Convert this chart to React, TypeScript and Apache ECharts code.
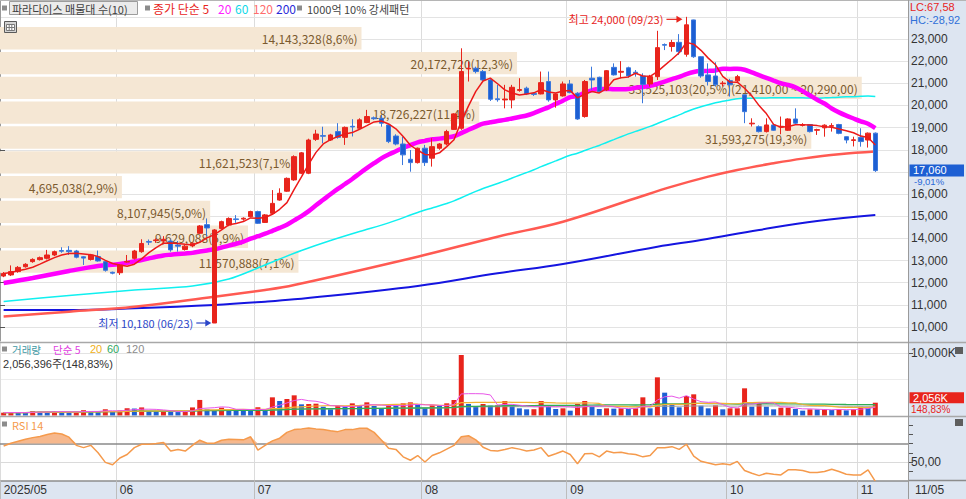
import React, { useEffect, useRef } from "react";
import * as echarts from "echarts";

// ---------- trading days shown (2025) ----------
const mayDays = [9, 12, 13, 14, 15, 16, 19, 20, 21, 22, 23, 26, 27, 28, 29, 30];
const junDays = [2, 4, 5, 9, 10, 11, 12, 13, 16, 17, 18, 19, 20, 23, 24, 25, 26, 27, 30];
const julDays = [1, 2, 3, 4, 7, 8, 9, 10, 11, 14, 15, 16, 17, 18, 21, 22, 23, 24, 25, 28, 29, 30, 31];
const augDays = [1, 4, 5, 6, 7, 8, 11, 12, 13, 14, 18, 19, 20, 21, 22, 25, 26, 27, 28, 29];
const sepDays = [1, 2, 3, 4, 5, 8, 9, 10, 11, 12, 15, 16, 17, 18, 19, 22, 23, 24, 25, 26, 29, 30];
const octDays = [1, 2, 10, 13, 14, 15, 16, 17, 20, 21, 22, 23, 24, 27, 28, 29, 30, 31];
const novDays = [3, 4, 5];

// ---------- daily candles ----------
const opens = [
  12300, 12350, 12500, 12720, 12950, 13040, 13100, 13250, 13450, 13460,
  13430, 13170, 13050, 13180, 12950, 12470, 12450, 12930, 13100, 13400,
  13860, 13900, 13880, 13880, 13700, 13500, 13660, 14230, 14620, 10180,
  14450, 14600, 14880, 14870, 14980, 15210, 14720, 15130, 15730, 16130,
  16640, 16940, 16940, 18470, 18640, 18440, 18820, 18560, 19060, 18970,
  19230, 19440, 19420, 19120, 18620, 18260, 17570, 17420, 18070, 17620,
  18070, 18260, 18920, 18970, 21650, 21680, 21530, 21150, 20300, 20250,
  20250, 20680, 20780, 20540, 20520, 21080, 20250, 20430, 20970, 20550,
  19500, 21230, 21270, 20700, 21720, 21500, 21700, 21500, 21330, 20970,
  21300, 22750, 22660, 22850, 22310, 23860, 22200, 21380, 21330, 20980,
  21120, 21110, 20480, 19170, 19040, 18820, 19120, 19030, 18880, 19390,
  19100, 19140, 18880, 18990, 19060, 19140, 18590, 18420, 18560, 18440,
  18750,
];
const closes = [
  12420, 12500, 12690, 12830, 13050, 13130, 13250, 13400, 13420, 13400,
  13150, 13110, 13250, 12980, 12560, 12430, 12790, 12960, 13430, 13770,
  13830, 13930, 13960, 13480, 13650, 13650, 13780, 14560, 14470, 14380,
  14755, 14900, 14850, 14910, 15210, 14680, 15060, 15580, 16036, 16710,
  17690, 17860, 18440, 18710, 18610, 18670, 18560, 19010, 19030, 19350,
  19500, 19400, 19200, 18370, 18260, 17770, 17420, 18070, 17420, 18140,
  18260, 18820, 19620, 21530, 21680, 21530, 21150, 20280, 20260, 20290,
  20820, 20720, 20520, 20500, 21030, 20250, 20520, 20970, 20580, 19390,
  21080, 21150, 20620, 21570, 21380, 21540, 21330, 21450, 20950, 21300,
  22610, 22720, 22840, 22430, 23640, 22200, 21330, 21080, 20930, 21010,
  20930, 21300, 19720, 19200, 18820, 19120, 18880, 19060, 19390, 19200,
  19130, 18820, 18910, 19110, 19090, 18740, 18440, 18450, 18370, 18750,
  17060,
];
const lows = [
  12250, 12300, 12450, 12680, 12900, 13000, 13050, 13200, 13350, 13250,
  13100, 12800, 13000, 12950, 12500, 12380, 12350, 12900, 13050, 13350,
  13700, 13800, 13800, 13400, 13400, 13450, 13600, 14200, 14100, 10180,
  14400, 14550, 14700, 14800, 14950, 14650, 14700, 15100, 15700, 16100,
  16600, 16900, 16900, 18400, 18290, 18400, 18500, 18220, 18600, 18900,
  19200, 19350, 19040, 18300, 18200, 17310, 17010, 17380, 17270, 17240,
  18000, 18200, 18900, 18900, 21080, 21450, 21100, 20200, 20170, 19870,
  19870, 20620, 20470, 20430, 20500, 20170, 19900, 20400, 20550, 19350,
  19450, 20700, 20600, 20650, 21350, 21230, 21250, 21300, 20100, 20850,
  21150, 22500, 22430, 22280, 22200, 22150, 21250, 20900, 20850, 20850,
  20400, 21050, 19200, 19050, 18780, 18780, 18850, 18700, 18850, 19150,
  19050, 18780, 18670, 18590, 18820, 18700, 18290, 18150, 18140, 18100,
  17000,
];
const highs = [
  12480, 12780, 12750, 12880, 13100, 13180, 13480, 13450, 13600, 13650,
  13480, 13200, 13300, 13450, 13000, 12500, 12820, 13250, 13480, 13960,
  13950, 14000, 14100, 13950, 13880, 13700, 13820, 14600, 14900, 14420,
  14800, 14950, 15050, 14950, 15250, 15250, 15100, 16180, 16260, 16750,
  17750, 17900, 18500, 18900, 19040, 18720, 19200, 19050, 19380, 19420,
  19800, 19500, 19570, 19150, 18700, 18590, 17990, 18100, 18220, 18520,
  18300, 18900, 19650, 22580, 21980, 21750, 21600, 21200, 20930, 20930,
  20930, 21230, 20850, 20580, 21530, 21530, 20550, 21080, 21150, 20600,
  21150, 21750, 21300, 21600, 21900, 22000, 21750, 21600, 21450, 21380,
  23370, 22800, 22960, 23220, 24000, 23870, 22220, 21900, 21950, 21100,
  21200, 21380, 20480, 19420, 19100, 19420, 19150, 19500, 19420, 19870,
  19200, 19160, 18950, 19150, 19200, 19170, 18600, 18590, 18970, 18780,
  18780,
];
// volume, thousands of shares
const volumesK = [
  450, 500, 480, 430, 700, 620, 600, 650, 560, 520,
  600, 850, 700, 600, 1000, 650, 800, 1150, 1120, 1300,
  700, 650, 700, 600, 550, 600, 1300, 2500, 992, 884,
  1260, 992, 884, 870, 777, 1313, 884, 2921, 2332, 2653,
  3243, 1796, 1849, 1900, 1420, 992, 1528, 1420, 1956, 1600,
  2117, 1528, 1153, 1635, 1600, 1956, 2117, 1688, 1153, 1635,
  1528, 1956, 2492, 9728, 1849, 1528, 1849, 1581, 1620, 2332,
  1581, 1153, 992, 1010, 2332, 1581, 1046, 1153, 777, 1849,
  2332, 1420, 1046, 1153, 1100, 1160, 1046, 1153, 2921, 1153,
  6137, 3671, 1688, 1313, 3136, 3404, 1581, 1153, 1635, 992,
  1153, 1160, 4369, 1420, 1849, 1420, 992, 1260, 1270, 1046,
  777, 992, 980, 1000, 884, 992, 830, 992, 1420, 1382,
  2056,
];
const rsi14 = [
  67.4, 70.4, 72.6, 74.8, 76.5, 77.8, 79.8, 81.5, 80.5, 77,
  68.1, 65.6, 68.1, 60, 49.6, 47, 54.4, 58.1, 65.6, 69.3,
  69.3, 70, 71.1, 61.9, 63.7, 61.9, 68.1, 73.7, 70.4, 70.4,
  73.7, 74.8, 74.5, 74.1, 77.4, 63, 68.1, 73, 75.9, 82.2,
  85.2, 86, 87, 86, 85.2, 84, 83, 85.2, 85.2, 86.7,
  86.7, 82.2, 74, 65, 63.7, 55.6, 51.9, 57, 50, 57,
  60, 64, 68, 77.4, 78.5, 74.1, 66, 62.6, 61.9, 63.5,
  65.6, 64, 61.9, 63, 65.6, 56.3, 59, 61.9, 58.1, 48.1,
  58.9, 59.3, 55.6, 61.9, 60, 60.7, 58.9, 58.1, 55.6, 57,
  65.6, 65.6, 66.7, 63.7, 69.3, 56.3, 50.7, 48.9, 47, 48.1,
  47, 50.7, 40.7, 37.8, 35.2, 37.8, 36.7, 35.9, 41.5, 41.5,
  40.7, 38.5, 38.5, 39.6, 42.2, 39.6, 36.7, 35.9, 35.9, 41.5,
  29,
];

const ma20Early = [[0, 11987], [4, 12212], [9, 12528], [13, 12754], [16, 12845]];
const ma60Early = [
  [0, 11151], [9, 11422], [18, 11671], [26, 11851], [31, 12167], [35, 12664],
  [38, 13070], [41, 13454], [45, 13905], [49, 14312], [53, 14700], [57, 15170],
];
const ma120Points = [
  [0, 10474], [9, 10691], [18, 10917], [29, 11368], [36, 11671], [40, 11896],
  [57, 13174], [68, 14077], [77, 14754], [87, 15811], [92, 16334], [97, 16786],
  [101, 17088], [106, 17390], [110, 17600], [115, 17800], [120, 17924],
];
const ma200Points = [
  [0, 10768], [9, 10768], [18, 10844], [29, 10993], [36, 11142], [40, 11251],
  [57, 11851], [68, 12425], [77, 12844], [90, 13626], [96, 13928], [104, 14380],
  [112, 14786], [120, 15057],
];

// price-volume profile (매물대, 10 bins)
const profileLows = [22530, 21410, 20290, 19170, 18050, 16930, 15810, 14690, 13570, 12450];
const profileHighs = [23650, 22530, 21410, 20290, 19170, 18050, 16930, 15810, 14690, 13570];
const profileVolumes = [14143328, 20172720, 33525103, 18726227, 31593275, 11621523, 4695038, 8107945, 9629088, 11570888];
const profilePcts = [8.6, 12.3, 20.5, 11.4, 19.3, 7.1, 2.9, 5.0, 5.9, 7.1];

const priceTicks = [10000, 11000, 12000, 13000, 14000, 15000, 16000, 17000, 18000, 19000, 20000, 21000, 22000, 23000];
const priceGridLines = [10000, 11000, 12000, 13000, 14000, 15000, 16000, 17000, 18000, 19000, 20000, 21000, 22000, 23000, 24000];
const volumeTicks = [10000];
const rsiTicks = [40, 50, 60, 70, 80, 90];
const rsiLabelTicks = [50];
const rsiOverbought = 70;

const lastVolumeShares = 2056396;
const lastVolumeRatio = 148.83;
const lcValue = 67.58;
const hcValue = -28.92;

// ---------- helpers ----------
const FONT = '"Noto Sans CJK KR", "Noto Sans", sans-serif';
const NUM_FONT = '"Liberation Sans", Arial, sans-serif';
const MIX_FONT = '"Liberation Sans", "Noto Sans CJK KR", sans-serif';
const RED = "#e8241c";
const BLUE = "#1d5fd3";
const fmt = (n: number) => Math.round(n).toLocaleString("en-US");
const dec = (n: number, d = 2) => n.toFixed(d).replace(".", ",");

const monthGroups: [string, number[]][] = [
  ["05", mayDays], ["06", junDays], ["07", julDays], ["08", augDays],
  ["09", sepDays], ["10", octDays], ["11", novDays],
];
const dates: string[] = [];
monthGroups.forEach(([m, days]) => days.forEach((d) => dates.push(`2025-${m}-${String(d).padStart(2, "0")}`)));
const PAD = 4;
const categories = dates.concat(Array.from({ length: PAD }, (_, i) => `pad${i}`));
const isMonthStart = (i: number) =>
  i < dates.length && (i === 0 || dates[i].slice(5, 7) !== dates[i - 1].slice(5, 7));
const LAST = closes.length - 1;
// the last-price box on the axis hides the tick label that it covers
const priceLabelValues = priceTicks.filter((v) => Math.abs(v - closes[LAST]) > 400);

function movingAvg(arr: number[], n: number, i: number) {
  const from = Math.max(0, i - n + 1);
  let s = 0;
  for (let k = from; k <= i; k++) s += arr[k];
  return s / (i - from + 1);
}
function fullWindowMA(arr: number[], n: number) {
  const out: number[][] = [];
  arr.forEach((_, i) => {
    if (i >= n - 1) out.push([i, movingAvg(arr, n, i)]);
  });
  return out;
}

const PLOT_W = 908;
const PROFILE_FULL_PCT = 21.6;

function catAxis(gridIndex: number, show: boolean) {
  return {
    type: "category",
    gridIndex,
    data: categories,
    boundaryGap: true,
    axisLine: { show, lineStyle: { color: "#8c8c8c", width: 1.5 } },
    axisTick: { show, interval: (i: number) => isMonthStart(i), length: 19, lineStyle: { color: "#bdbdbd" } },
    axisLabel: {
      show,
      interval: (i: number) => isMonthStart(i),
      formatter: (v: string, i: number) => (i === 0 ? `${v.slice(0, 4)}/${v.slice(5, 7)}` : v.slice(5, 7)),
      align: "left",
      color: "#333",
      fontSize: 12,
      margin: 4,
      fontFamily: NUM_FONT,
    },
    splitLine: { show: true, interval: (i: number) => isMonthStart(i), lineStyle: { color: "#dcdcdc" } },
  };
}

function buildOption() {
  const ohlc = opens.map((o, i) => [o, closes[i], lows[i], highs[i]]);
  const ma5 = closes.map((_, i) => movingAvg(closes, 5, i));
  const ma20 = (ma20Early as number[][]).concat(fullWindowMA(closes, 20));
  const ma60 = (ma60Early as number[][]).concat(fullWindowMA(closes, 60));
  const volBars = volumesK.map((v, i) => ({
    value: v,
    itemStyle: { color: i === 0 || v > volumesK[i - 1] ? RED : BLUE },
  }));
  const vma = (n: number) => volumesK.map((_, i) => movingAvg(volumesK, n, i));
  const maxPct = Math.max(...profilePcts);
  const profileLabels = profileVolumes.map((v, i) => {
    let s = `${fmt(v)}(${dec(profilePcts[i], 1)}%)`;
    if (profilePcts[i] === maxPct) s += `(${fmt(profileHighs[i])},00 ~ ${fmt(profileLows[i])},00)`;
    return s;
  });
  const profileData = profileLows.map((lo, i) => [lo, profileHighs[i], profilePcts[i]]);

  const lineS = (data: any, color: string, width: number, z: number, smooth: any = false) => ({
    type: "line",
    xAxisIndex: 0,
    yAxisIndex: 0,
    data,
    symbol: "none",
    showSymbol: false,
    smooth,
    lineStyle: { color, width },
    z,
    silent: true,
  });
  const volLine = (data: number[], color: string, width = 1) => ({
    type: "line",
    xAxisIndex: 1,
    yAxisIndex: 1,
    data,
    symbol: "none",
    lineStyle: { color, width },
    z: 4,
    silent: true,
  });
  const yLabel = (values: number[], formatter: (v: number) => string) => ({
    customValues: values,
    formatter,
    color: "#333",
    fontSize: 12,
    margin: 3,
    fontFamily: NUM_FONT,
  });

  return {
    animation: false,
    textStyle: { fontFamily: FONT },
    grid: [
      { left: 0, top: 1, width: PLOT_W, height: 340 },
      { left: 0, top: 343, width: PLOT_W, height: 72.5 },
      { left: 0, top: 416, width: PLOT_W, height: 64.4 },
    ],
    xAxis: [
      catAxis(0, false),
      catAxis(1, false),
      catAxis(2, true),
      { type: "value", gridIndex: 0, position: "top", min: 0, max: PROFILE_FULL_PCT, show: false },
    ],
    yAxis: [
      {
        type: "value",
        gridIndex: 0,
        position: "right",
        min: 9368,
        max: 24715,
        axisLine: { show: true, lineStyle: { color: "#9a9a9a" } },
        axisTick: { show: true, length: 5, customValues: priceTicks, lineStyle: { color: "#555" } },
        axisLabel: yLabel(priceLabelValues, (v) => fmt(v)),
        splitLine: { show: false },
      },
      {
        type: "value",
        gridIndex: 1,
        position: "right",
        min: 0,
        max: 11656,
        axisLine: { show: true, lineStyle: { color: "#9a9a9a" } },
        axisTick: { show: true, length: 5, customValues: volumeTicks, lineStyle: { color: "#555" } },
        axisLabel: yLabel(volumeTicks, (v) => `${fmt(v)}K`),
        splitLine: { show: false },
      },
      {
        type: "value",
        gridIndex: 2,
        position: "right",
        min: 30,
        max: 100,
        axisLine: { show: true, lineStyle: { color: "#9a9a9a" } },
        axisTick: { show: true, length: 5, customValues: rsiTicks, lineStyle: { color: "#555" } },
        axisLabel: yLabel(rsiLabelTicks, (v) => dec(v)),
        splitLine: { show: false },
      },
    ],
    series: [
      {
        type: "custom",
        xAxisIndex: 3,
        yAxisIndex: 0,
        data: profileData,
        encode: { x: 2, y: [0, 1] },
        z: 1,
        silent: true,
        renderItem: (params: any, api: any) => {
          const lo = api.value(0);
          const hi = api.value(1);
          const pct = api.value(2);
          const tl = api.coord([0, hi]);
          const br = api.coord([pct, lo]);
          const top = tl[1] + 2.5;
          const h = br[1] - top;
          return {
            type: "group",
            children: [
              { type: "rect", shape: { x: tl[0], y: top, width: br[0] - tl[0], height: h }, style: { fill: "#f5e7d4" } },
              {
                type: "text",
                style: {
                  text: profileLabels[params.dataIndex],
                  x: br[0] - 4,
                  y: top + h / 2 + 0.5,
                  align: "right",
                  verticalAlign: "middle",
                  fill: "#7b5a2e",
                  font: `12px ${FONT}`,
                },
              },
            ],
          };
        },
        markLine: {
          silent: true,
          symbol: "none",
          z: 0,
          label: { show: false },
          lineStyle: { color: "#e3e3e3", type: "solid", width: 1 },
          data: priceGridLines.map((v) => ({ yAxis: v })),
        },
      },
      lineS(ma200Points, "#1515e0", 2, 2, 0.4),
      lineS(ma120Points, "#ff5a52", 2.5, 2, 0.4),
      lineS(ma60, "#10f0f0", 1.5, 2, 0.3),
      lineS(ma20, "#ff00ff", 4.5, 2, 0.3),
      {
        type: "candlestick",
        xAxisIndex: 0,
        yAxisIndex: 0,
        data: ohlc,
        barWidth: 5,
        z: 3,
        silent: true,
        itemStyle: { color: RED, color0: BLUE, borderColor: RED, borderColor0: "#3b78dc", borderWidth: 1 },
      },
      lineS(ma5, "#ec1a1a", 1.5, 4),
      {
        type: "bar",
        xAxisIndex: 1,
        yAxisIndex: 1,
        data: volBars,
        barWidth: 5,
        z: 2,
        silent: true,
        markLine: {
          silent: true,
          symbol: "none",
          z: 0,
          label: { show: false },
          lineStyle: { color: "#e3e3e3", type: "solid", width: 1 },
          data: volumeTicks.map((v) => ({ yAxis: v })),
        },
      },
      volLine(vma(120), "#a0a0a0"),
      volLine(vma(60), "#2fae55", 1.3),
      volLine(vma(20), "#f2b233", 1.2),
      volLine(vma(5), "#e857e8", 1),
      {
        type: "line",
        xAxisIndex: 2,
        yAxisIndex: 2,
        stack: "rsiFill",
        data: rsi14.map(() => rsiOverbought),
        symbol: "none",
        lineStyle: { opacity: 0 },
        silent: true,
        z: 2,
      },
      {
        type: "line",
        xAxisIndex: 2,
        yAxisIndex: 2,
        stack: "rsiFill",
        data: rsi14.map((v) => Math.max(0, v - rsiOverbought)),
        symbol: "none",
        lineStyle: { opacity: 0 },
        areaStyle: { color: "#f6b88d", opacity: 1 },
        silent: true,
        z: 2,
      },
      {
        type: "line",
        xAxisIndex: 2,
        yAxisIndex: 2,
        data: rsi14,
        symbol: "none",
        lineStyle: { color: "#f59a4c", width: 1.5 },
        silent: true,
        z: 3,
        markLine: {
          silent: true,
          symbol: "none",
          z: 1,
          label: { show: false },
          data: [
            { yAxis: rsiOverbought, lineStyle: { color: "#8a8a8a", width: 1.5, type: "solid" } },
            { yAxis: 50, lineStyle: { color: "#dadada", width: 1, type: "solid" } },
          ],
        },
      },
    ],
  };
}

function buildGraphics(chart: any) {
  const g: any[] = [];
  const rect = (x: number, y: number, w: number, h: number, fill: string, z = -10, stroke?: string) =>
    g.push({ type: "rect", shape: { x, y, width: w, height: h }, style: { fill, stroke, lineWidth: stroke ? 1 : 0 }, z, silent: true });
  const text = (x: number, y: number, t: string, fill: string, size = 12, align = "left", z = 100, family = FONT) =>
    g.push({ type: "text", x, y, style: { text: t, fill, font: `${size}px ${family}`, align, verticalAlign: "middle" }, z, silent: true });
  const line = (x1: number, y1: number, x2: number, y2: number, stroke: string, w = 1, z = 50) =>
    g.push({ type: "line", shape: { x1, y1, x2, y2 }, style: { stroke, lineWidth: w }, z, silent: true });
  const arrow = (tipX: number, tipY: number, len: number, color: string) => {
    line(tipX - len, tipY, tipX - 4, tipY, color, 1.2, 101);
    g.push({ type: "polygon", shape: { points: [[tipX, tipY], [tipX - 6, tipY - 3.5], [tipX - 6, tipY + 3.5]] }, style: { fill: color }, z: 101, silent: true });
  };

  // backgrounds & separators
  rect(908.5, 0, 58, 499, "#dde5f1", -10);
  rect(0, 481, 908.5, 18, "#dde5f1", -10);
  line(0, 0.5, 966, 0.5, "#b5b5b5", 1, 60);
  line(0, 342.5, 966, 342.5, "#a8a8a8", 1.5, 60);
  line(0, 416.5, 966, 416.5, "#a8a8a8", 1.5, 60);
  line(908, 480.5, 966, 480.5, "#8c8c8c", 1.5, 60);
  line(908.5, 0, 908.5, 499, "#9a9a9a", 1, 60);
  line(0, 379.5, 908, 379.5, "#ececec", 1, -5);

  // top legend
  rect(2, 5.5, 5, 5, "#8c8c8c", 100);
  rect(9.5, 1.5, 128, 13, "#ebebeb", 99, "#9c9c9c");
  text(12, 8.5, "파라다이스 매물대 수(10)", "#404040", 11);
  rect(145, 5.5, 5, 5, "#8c8c8c", 100);
  text(153, 8.5, "종가 단순 5", RED, 12);
  text(218, 8.5, "20", "#ff22ff", 12);
  text(235, 8.5, "60", "#10d8e8", 12);
  text(253, 8.5, "120", "#ff6d6d", 12);
  text(276, 8.5, "200", "#2a2ad8", 12);
  rect(297, 5.5, 5, 5, "#8c8c8c", 100);
  text(307, 8.5, "1000억 10% 강세패턴", "#444", 11);
  // table icon
  rect(4.5, 21.5, 12, 11, "#d4d4d4", 100, "#5a5a5a");
  rect(6.5, 24.5, 8, 6, "#ffffff", 101, "#7a7a7a");
  line(9.2, 24.5, 9.2, 30.5, "#7a7a7a", 1, 102);
  line(11.8, 24.5, 11.8, 30.5, "#7a7a7a", 1, 102);
  line(6.5, 27.5, 14.5, 27.5, "#7a7a7a", 1, 102);

  // volume legend
  rect(2, 346.5, 5, 5, "#8c8c8c", 100);
  text(12, 349, "거래량", "#3f9aa6", 10.5);
  text(53, 349, "단순 5", "#e040e0", 10.5);
  text(90, 349, "20", "#f0b020", 11, "left", 100, NUM_FONT);
  text(107, 349, "60", "#2fa860", 11, "left", 100, NUM_FONT);
  text(126, 349, "120", "#8c8c8c", 11, "left", 100, NUM_FONT);
  text(3, 364, `${fmt(lastVolumeShares)}주(${dec(lastVolumeRatio)}%)`, "#333", 11, "left", 100, MIX_FONT);

  // RSI legend
  rect(2, 421.5, 5, 5, "#8c8c8c", 100);
  text(12, 424.5, "RSI 14", "#f59a4c", 11);

  // right column texts
  text(910, 7.3, `LC:${dec(lcValue)}`, RED, 11, "left", 100, NUM_FONT);
  text(910, 20.2, `HC:${dec(hcValue)}`, "#3070d8", 11, "left", 100, NUM_FONT);
  const n = LAST;
  const [, py] = chart.convertToPixel({ xAxisIndex: 0, yAxisIndex: 0 }, [n, closes[n]]);
  rect(909.5, py - 6, 54.5, 12, BLUE, 99);
  text(913, py - 0.8, fmt(closes[n]), "#ffffff", 11, "left", 100, NUM_FONT);
  const chg = (closes[n] / closes[n - 1] - 1) * 100;
  text(914, py + 11.2, `${chg < 0 ? "-" : "+"}${dec(Math.abs(chg))}%`, "#2a6ad8", 9.5, "left", 100, NUM_FONT);
  const [, vy] = chart.convertToPixel({ xAxisIndex: 1, yAxisIndex: 1 }, [n, volumesK[n]]);
  rect(909.5, vy - 10.5, 54.5, 11, RED, 99);
  text(913, vy - 5.2, `${fmt(volumesK[n])}K`, "#ffffff", 11, "left", 100, NUM_FONT);
  text(911, vy + 7.2, `${dec(lastVolumeRatio)}%`, RED, 10, "left", 100, NUM_FONT);
  rect(955, 347, 8, 7, "#5e5e5e", 100);
  rect(955, 419, 8, 7, "#5e5e5e", 100);
  const lastDate = dates[n];
  text(915, 490, `${lastDate.slice(5, 7)}/${lastDate.slice(8, 10)}`, "#333", 12, "left", 100, NUM_FONT);

  // high / low annotations
  let hiIdx = 0;
  let loIdx = 0;
  highs.forEach((h, i) => { if (h > highs[hiIdx]) hiIdx = i; });
  lows.forEach((l, i) => { if (l < lows[loIdx]) loIdx = i; });
  const [hx, hy] = chart.convertToPixel({ xAxisIndex: 0, yAxisIndex: 0 }, [hiIdx, highs[hiIdx]]);
  const hd = dates[hiIdx];
  const hTip = hx - 4;
  arrow(hTip, hy + 2.5, 16, RED);
  text(hTip - 19, hy + 2.5, `최고 ${fmt(highs[hiIdx])} (${hd.slice(5, 7)}/${hd.slice(8, 10)})`, RED, 11, "right", 101);
  const [lx, ly] = chart.convertToPixel({ xAxisIndex: 0, yAxisIndex: 0 }, [loIdx, lows[loIdx]]);
  const ld = dates[loIdx];
  const lTip = lx - 3;
  const lowBlue = "#2b46c8";
  arrow(lTip, ly, 15, lowBlue);
  text(lTip - 18, ly, `최저 ${fmt(lows[loIdx])} (${ld.slice(5, 7)}/${ld.slice(8, 10)})`, lowBlue, 11, "right", 101);

  return g;
}

export default function App() {
  const ref = useRef<HTMLDivElement>(null);
  useEffect(() => {
    const el = ref.current;
    if (!el) return;
    const chart = echarts.init(el, undefined, { renderer: "svg", width: 966, height: 499 });
    chart.setOption(buildOption() as any);
    chart.setOption({ graphic: { elements: buildGraphics(chart) } } as any);
    return () => chart.dispose();
  }, []);
  return (
    <div
      ref={ref}
      style={{ position: "fixed", left: 0, top: 0, width: 966, height: 499, background: "#ffffff" }}
    />
  );
}
